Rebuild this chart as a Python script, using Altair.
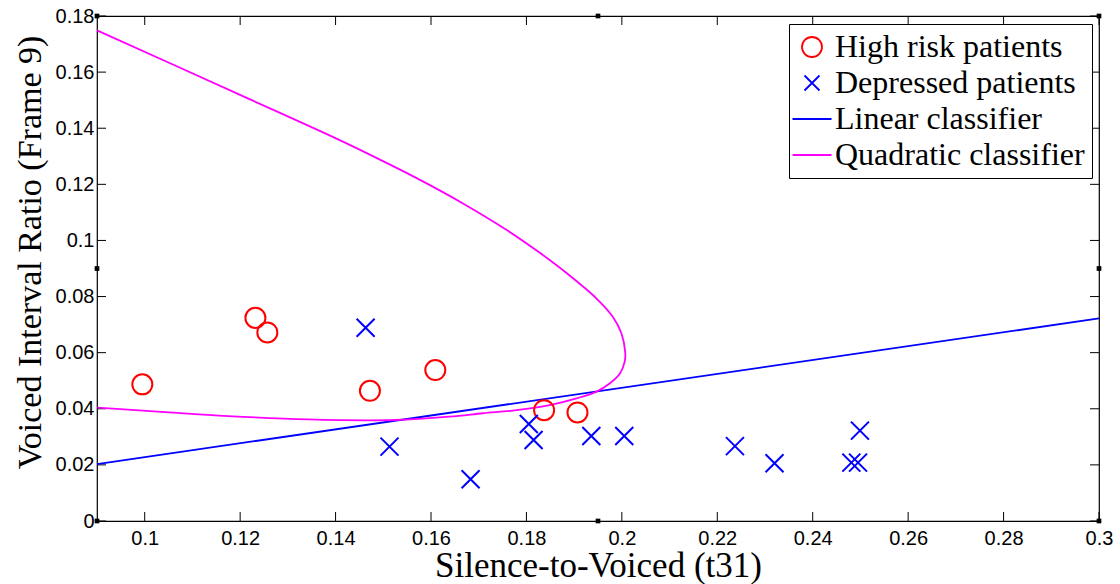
import altair as alt
import pandas as pd

# High risk patients (circles)
risk_x = [0.0995, 0.1232, 0.1257, 0.1472, 0.1609, 0.1837, 0.1907]
risk_y = [0.0487, 0.0724, 0.0672, 0.0464, 0.0538, 0.0395, 0.0387]

# Depressed patients (crosses)
dep_x = [0.1463, 0.1513, 0.1683, 0.1805, 0.1815, 0.1936, 0.2005, 0.2237, 0.2320, 0.2481, 0.2495, 0.2499]
dep_y = [0.0689, 0.0265, 0.0149, 0.0346, 0.0289, 0.0303, 0.0303, 0.0267, 0.0206, 0.0208, 0.0208, 0.0322]

# Linear decision boundary (end points)
lin_x = [0.09, 0.30]
lin_y = [0.0203, 0.0722]

# Quadratic decision boundary
quad_x = [0.0900, 0.1201, 0.1402, 0.1492, 0.1569, 0.1667, 0.1758, 0.1828, 0.1884,
          0.1947, 0.1981, 0.1999, 0.2007, 0.2006, 0.1996, 0.1975, 0.1947, 0.1905,
          0.1849, 0.1779, 0.1709, 0.1639, 0.1524, 0.1342, 0.1175, 0.1035, 0.0901]
quad_y = [0.1749, 0.1518, 0.1363, 0.1289, 0.1223, 0.1132, 0.1038, 0.0956, 0.0884,
          0.0793, 0.0728, 0.0669, 0.0603, 0.0568, 0.0526, 0.0491, 0.0461, 0.0437,
          0.0413, 0.0395, 0.0384, 0.0372, 0.0360, 0.0362, 0.0374, 0.0389, 0.0404]

x_ticks = [0.10, 0.12, 0.14, 0.16, 0.18, 0.20, 0.22, 0.24, 0.26, 0.28, 0.30]
y_ticks = [0.00, 0.02, 0.04, 0.06, 0.08, 0.10, 0.12, 0.14, 0.16, 0.18]

series = ["High risk patients", "Depressed patients", "Linear classifier", "Quadratic classifier"]
colors = ["#ff0000", "#0000ff", "#0000ff", "#ff00ff"]

# symbol paths in Vega's unit space (scaled by sqrt(size)/2)
circle_path = "M-0.667,0A0.667,0.667,0,1,1,0.667,0A0.667,0.667,0,1,1,-0.667,0Z"
cross_path = "M-0.5,-0.5L0.5,0.5M-0.5,0.5L0.5,-0.5"
line_path = "M-1.3,0L1.3,0"
shapes = [circle_path, cross_path, line_path, line_path]

W, H = 1002, 505
TICK = 9

risk_df = pd.DataFrame({"x": risk_x, "y": risk_y, "series": series[0]})
dep_df = pd.DataFrame({"x": dep_x, "y": dep_y, "series": series[1]})
lin_df = pd.DataFrame({"x": lin_x, "y": lin_y, "series": series[2]})
quad_df = pd.DataFrame({"x": quad_x, "y": quad_y, "series": series[3],
                        "i": list(range(len(quad_x)))})
xt_df = pd.DataFrame({"x": x_ticks})
yt_df = pd.DataFrame({"y": y_ticks})

# selection handles of the axes box: corners and edge midpoints
handle_df = pd.DataFrame({
    "x": [0.09, 0.195, 0.30, 0.09, 0.30, 0.09, 0.195, 0.30],
    "y": [0.18, 0.18, 0.18, 0.09, 0.09, 0.0, 0.0, 0.0],
})

x_scale = alt.Scale(domain=[0.09, 0.30], nice=False, zero=False)
y_scale = alt.Scale(domain=[0.0, 0.18], nice=False, zero=False)

x_axis = alt.Axis(values=x_ticks, format="~g", title="Silence-to-Voiced (t31)",
                  ticks=False, domain=False, grid=False, labelFlush=False,
                  labelPadding=7, titlePadding=0, titleFontSize=35)
y_axis = alt.Axis(values=y_ticks, format="~g", title="Voiced Interval Ratio (Frame 9)",
                  ticks=False, domain=False, grid=False, labelFlush=False,
                  labelPadding=3, titlePadding=8, titleFontSize=34, titleY=236)

X = alt.X("x:Q", scale=x_scale, axis=x_axis)
Y = alt.Y("y:Q", scale=y_scale, axis=y_axis)

legend = alt.Legend(title=None, orient="none", legendX=692, legendY=8,
                    strokeColor="black", fillColor="white", padding=7,
                    labelFont="Liberation Serif", labelFontSize=32, labelColor="black",
                    labelOffset=7, rowPadding=4, symbolSize=900,
                    symbolStrokeWidth=1.8, symbolFillColor="transparent",
                    labelLimit=400)

color = alt.Color("series:N", scale=alt.Scale(domain=series, range=colors), legend=legend)
shape = alt.Shape("series:N", scale=alt.Scale(domain=series, range=shapes), legend=legend)

lin_layer = alt.Chart(lin_df).mark_line(strokeWidth=1.8).encode(x=X, y=Y, color=color)
quad_layer = alt.Chart(quad_df).mark_line(strokeWidth=1.8, interpolate="catmull-rom").encode(
    x=X, y=Y, color=color, order="i:Q")
risk_layer = alt.Chart(risk_df).mark_point(filled=False, size=900, strokeWidth=2,
                                           opacity=1).encode(x=X, y=Y, color=color, shape=shape)
dep_layer = alt.Chart(dep_df).mark_point(filled=False, size=1296, strokeWidth=2,
                                         opacity=1).encode(x=X, y=Y, color=color, shape=shape)

bottom_ticks = alt.Chart(xt_df).mark_rule(color="black", strokeWidth=1).encode(
    x=X, y=alt.value(H), y2=alt.value(H - TICK))
top_ticks = alt.Chart(xt_df).mark_rule(color="black", strokeWidth=1).encode(
    x=X, y=alt.value(0), y2=alt.value(TICK))
left_ticks = alt.Chart(yt_df).mark_rule(color="black", strokeWidth=1).encode(
    y=Y, x=alt.value(0), x2=alt.value(TICK))
right_ticks = alt.Chart(yt_df).mark_rule(color="black", strokeWidth=1).encode(
    y=Y, x=alt.value(W), x2=alt.value(W - TICK))

handles = alt.Chart(handle_df).mark_square(color="black", size=22, opacity=1).encode(x=X, y=Y)

chart = alt.layer(
    bottom_ticks, top_ticks, left_ticks, right_ticks,
    lin_layer, quad_layer, risk_layer, dep_layer, handles,
).properties(
    width=W, height=H,
    autosize=alt.AutoSizeParams(type="none"),
    padding={"left": 97, "top": 16, "right": 1120 - 97 - W, "bottom": 584 - 16 - H},
    background="white",
).configure_view(
    stroke="black", strokeWidth=1.2,
).configure_axis(
    labelFont="Liberation Sans", labelFontSize=20, labelColor="black",
    titleFont="Liberation Serif", titleFontWeight="normal", titleColor="black",
)

chart.save("out.html", embed_options={"renderer": "svg", "actions": False})
